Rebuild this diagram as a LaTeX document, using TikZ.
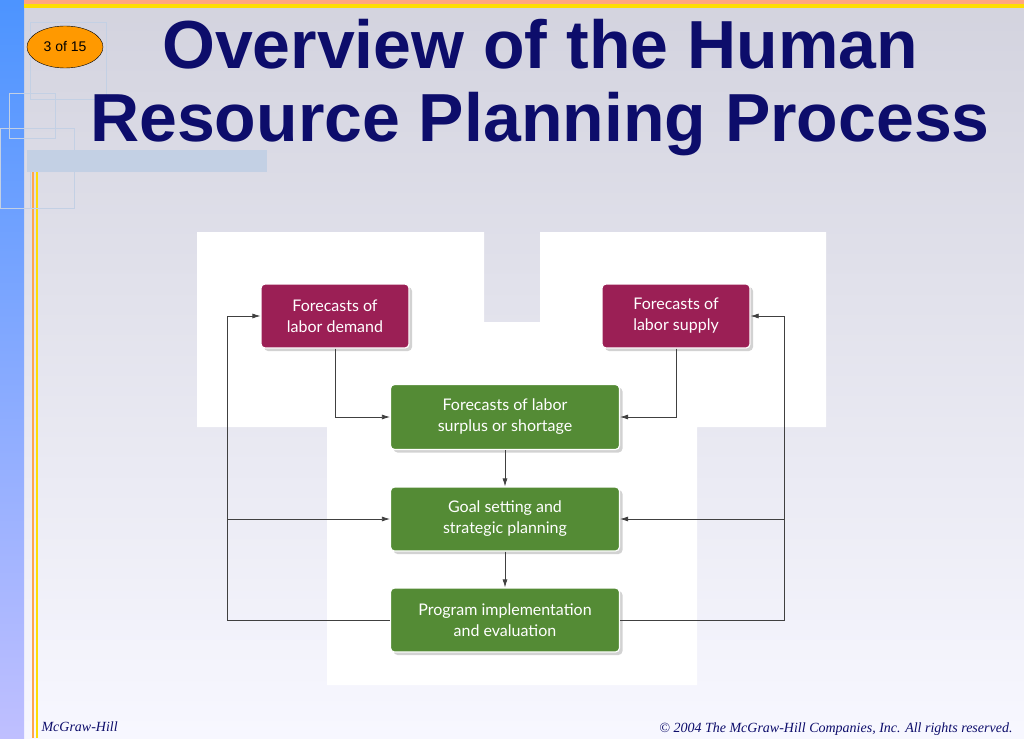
\documentclass[tikz,border=0pt]{standalone}
\usepackage{fontspec}
\setmainfont{Liberation Sans}
\newfontfamily\boxfont{Lato}
\newfontfamily\footfont{Liberation Serif}
\usetikzlibrary{arrows.meta,shadows,shapes.geometric}
\definecolor{navy}{HTML}{0D0D6B}
\definecolor{maroon}{HTML}{9B1F55}
\definecolor{grn}{HTML}{548B35}
\definecolor{deco}{HTML}{C3D0E4}
\begin{document}
\begin{tikzpicture}[x=1pt,y=-1pt,
  boxst/.style={rounded corners=4pt,draw=white,line width=1.2pt,text=white,font=\boxfont\fontsize{16}{21}\selectfont,align=center,inner sep=0pt,drop shadow={shadow xshift=3pt,shadow yshift=-3pt,opacity=0.35}},
  conn/.style={draw=black!75,line width=0.7pt},
  arr/.style={conn,-{Latex[length=8pt,width=5pt]}}]
\useasboundingbox (0,0) rectangle (1024,738);
\shade[top color=blue!15!gray!30,bottom color=blue!3!white] (0,0) rectangle (1024,738);
% left bar
\shade[top color=blue!60!cyan!70,bottom color=blue!25!white] (0,0) rectangle (24,738);
% top stripes
\fill[orange!60!red!50] (24,0) rectangle (1024,4);
\fill[yellow!80!orange] (24,4) rectangle (1024,8);
% vertical stripes
\fill[orange!70] (32,172) rectangle (34,738);
\fill[yellow!80!orange] (36,172) rectangle (38,738);
% deco squares
\draw[deco,line width=1pt] (30,23) rectangle (106,100) (9,94) rectangle (55,139) (0,129) rectangle (74,208) (30,172) rectangle (74,208);
\fill[deco] (27,150) rectangle (267,172);
% page oval
\node[ellipse,draw=black,fill=orange!80!yellow,minimum width=76pt,minimum height=42pt,inner sep=0pt,font=\fontsize{14}{15}\selectfont] (pg) at (65,47) {3 of 15};
% title
\node[text=navy,font=\bfseries\fontsize{68}{73}\selectfont,align=center] (title) at (540,88) {Overview of the Human\\Resource Planning Process};
% white panels
\fill[white] (197,232) rectangle (484,427) (540,232) rectangle (826,427) (327,322) rectangle (697,685);
% boxes
\node[boxst,fill=maroon,minimum width=148pt,minimum height=64pt] (dem) at (335,316) {Forecasts of\\labor demand};
\node[boxst,fill=maroon,minimum width=148pt,minimum height=64pt] (sup) at (676,316) {Forecasts of\\labor supply};
\node[boxst,fill=grn,minimum width=229pt,minimum height=65pt] (sur) at (505,417) {Forecasts of labor\\surplus or shortage};
\node[boxst,fill=grn,minimum width=229pt,minimum height=64pt] (goal) at (505,519) {Goal setting and\\strategic planning};
\node[boxst,fill=grn,minimum width=229pt,minimum height=64pt] (prog) at (505,620) {Program implementation\\and evaluation};
\coordinate (lb) at (227,620); \coordinate (rb) at (784,620);
\draw[arr] (dem.south) |- (sur.west);
\draw[arr] (sup.south) |- (sur.east);
\draw[arr] (sur.south) -- (goal.north);
\draw[arr] (goal.south) -- (prog.north);
\draw[arr] (prog.west) -- (lb) |- (dem.west);
\draw[arr] (lb |- goal.west) -- (goal.west);
\draw[arr] (prog.east) -- (rb) |- (sup.east);
\draw[arr] (rb |- goal.east) -- (goal.east);
% footer
\node[anchor=west,font=\footfont\itshape\fontsize{14}{15}\selectfont,text=navy] (mh) at (38,727) {McGraw-Hill};
\node[anchor=east,font=\footfont\itshape\fontsize{14}{15}\selectfont,text=navy] (cp) at (1016,729) {\copyright\ 2004 The McGraw-Hill Companies, Inc. All rights reserved.};
\end{tikzpicture}
\end{document}
